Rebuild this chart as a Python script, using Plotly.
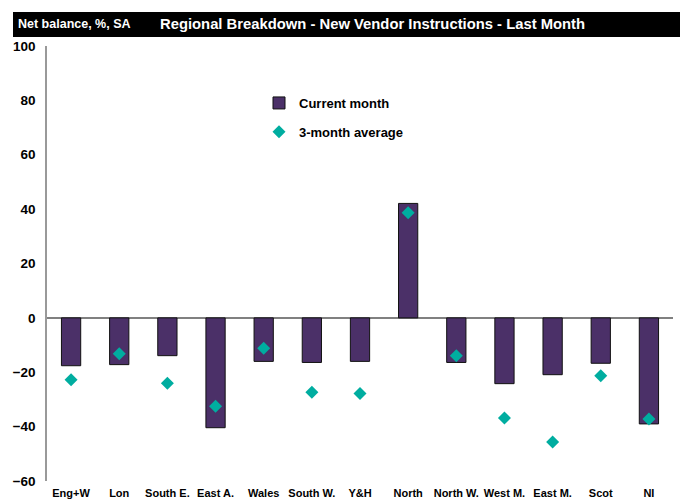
import plotly.graph_objects as go

categories = ["Eng+W", "Lon", "South E.", "East A.", "Wales", "South W.", "Y&H",
              "North", "North W.", "West M.", "East M.", "Scot", "NI"]
current_month = [-17.6, -17.2, -13.9, -40.4, -16.0, -16.4, -16.0,
                 42.1, -16.4, -24.2, -20.9, -16.7, -39.0]
three_month_avg = [-22.8, -13.2, -24.0, -32.5, -11.2, -27.4, -27.8,
                   38.7, -13.9, -36.8, -45.7, -21.3, -37.2]
y_ticks = [-60, -40, -20, 0, 20, 40, 60, 80, 100]

FONT = "Liberation Sans, Arial, sans-serif"

# page has an 8px body margin: figure origin sits at (8, 8) of the window
OFF = 8
W, H = 688 - OFF, 499 - OFF
# plot area in page pixels
L, R, T, B = 47, 673, 46, 481

def px_x(p):
    return (p - L) / (R - L)

def px_y(p):
    return (B - p) / (B - T)

fig = go.Figure()
fig.add_trace(go.Bar(
    x=categories, y=current_month, name="Current month",
    marker=dict(color="#4B3068", line=dict(color="#111111", width=1)),
    width=0.4, legendgroup="a",
))
fig.add_trace(go.Scatter(
    x=categories, y=three_month_avg, name="3-month average", mode="markers",
    marker=dict(symbol="diamond", size=10, color="#00ADA0"),
    legendgroup="b",
))

fig.update_layout(
    width=W, height=H,
    margin=dict(l=L - OFF, r=W - (R - OFF), t=T - OFF, b=H - (B - OFF),
                pad=0, autoexpand=False),
    plot_bgcolor="white", paper_bgcolor="white",
    font=dict(family=FONT, size=13, color="black", weight="bold"),
    bargap=0.6,
    showlegend=True,
    legend=dict(x=px_x(259), y=px_y(88), xanchor="left", yanchor="top",
                bgcolor="rgba(0,0,0,0)", tracegroupgap=9,
                font=dict(family=FONT, size=13, color="black", weight="bold")),
    xaxis=dict(range=[-0.5, len(categories) - 0.5],
               showline=False, showgrid=False, zeroline=False, ticks="",
               tickangle=0, automargin=False, ticklabelstandoff=4,
               tickfont=dict(family=FONT, size=11, weight="bold")),
    yaxis=dict(range=[-60, 100], tickvals=y_ticks, showgrid=False,
               showline=True, linecolor="#999999", linewidth=1.5,
               zeroline=True, zerolinecolor="#808080", zerolinewidth=1.5,
               ticks="", ticklabelstandoff=7, automargin=False,
               tickfont=dict(family=FONT, size=13.5, weight="bold")),
    shapes=[dict(type="rect", xref="paper", yref="paper",
                 x0=px_x(13), x1=px_x(680), y0=px_y(37), y1=px_y(12),
                 fillcolor="black", line=dict(width=0), layer="below")],
    annotations=[
        dict(text="Net balance, %, SA", xref="paper", yref="paper",
             x=px_x(16), y=px_y(24.5), xanchor="left", yanchor="middle",
             showarrow=False, font=dict(family=FONT, size=12.5, color="white", weight="bold")),
        dict(text="Regional Breakdown - New Vendor Instructions - Last Month",
             xref="paper", yref="paper",
             x=px_x(158), y=px_y(24.5), xanchor="left", yanchor="middle",
             showarrow=False, font=dict(family=FONT, size=14.8, color="white", weight="bold")),
    ],
)

fig.write_html("out.html")
